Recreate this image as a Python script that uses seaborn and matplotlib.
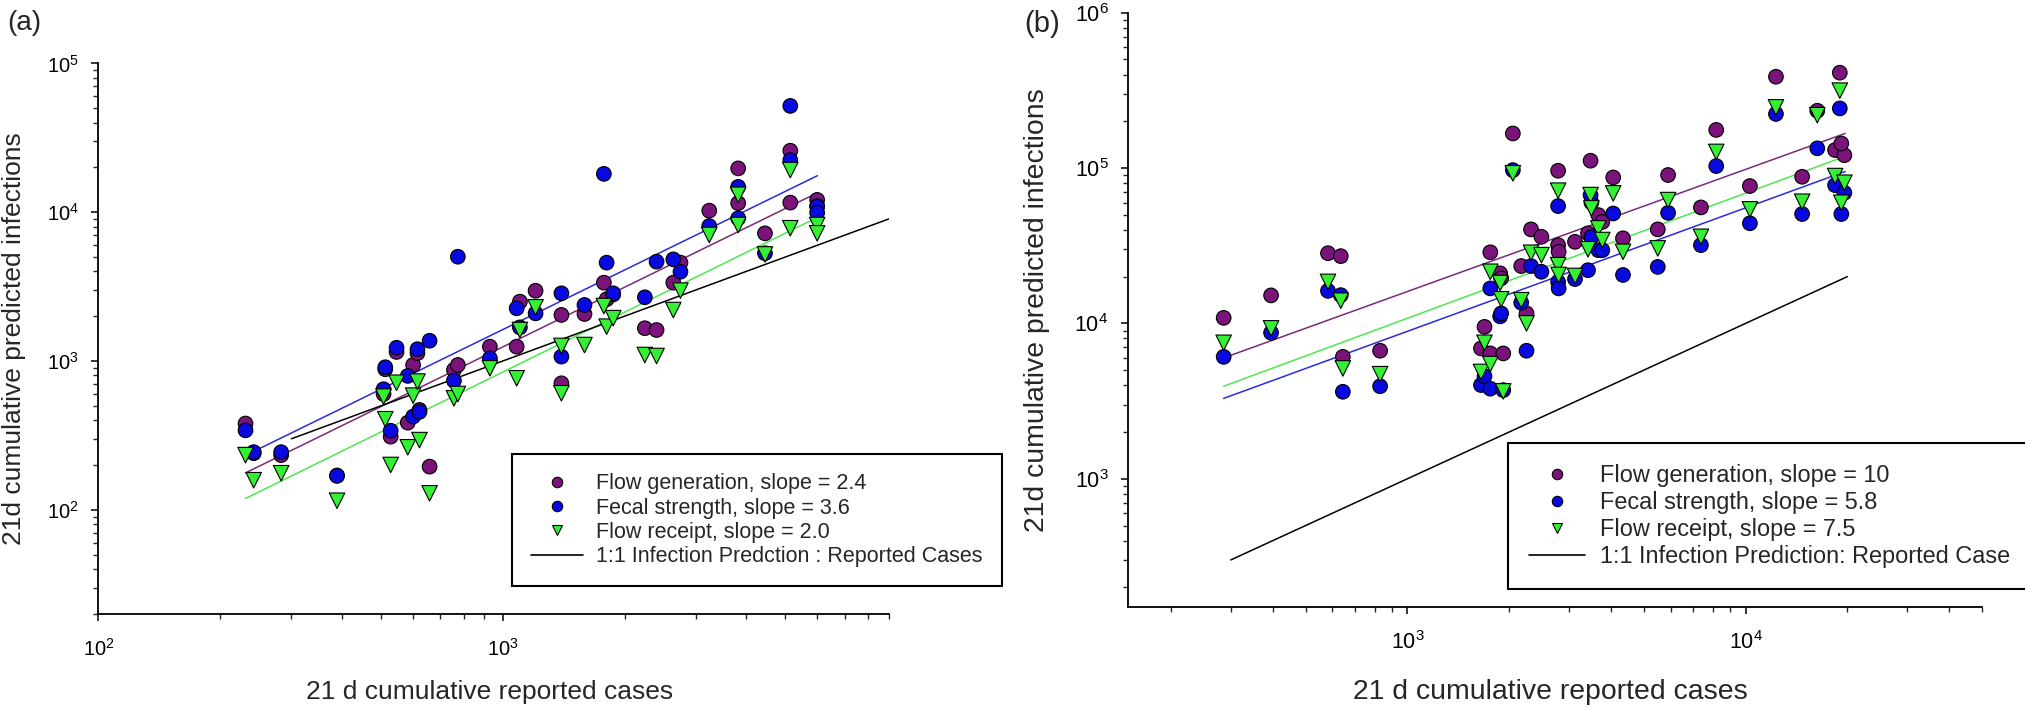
import numpy as np
import pandas as pd
import matplotlib
matplotlib.use("Agg")
import matplotlib.pyplot as plt
import seaborn as sns
from matplotlib.lines import Line2D
from matplotlib.ticker import LogLocator, NullFormatter, FuncFormatter

sns.set_theme(style="ticks")
plt.rcParams['font.family'] = ['Liberation Sans', 'DejaVu Sans']
plt.rcParams['mathtext.fontset'] = 'custom'
plt.rcParams['mathtext.rm'] = 'Liberation Sans'
plt.rcParams['mathtext.it'] = 'Liberation Sans:italic'
plt.rcParams['mathtext.bf'] = 'Liberation Sans:bold'
plt.rcParams['mathtext.default'] = 'regular'

methods = ["Flow generation", "Fecal strength", "Flow receipt"]

# ---------------- Panel (a) data ----------------
a_reported = [231, 242, 283, 389, 507, 512, 528, 546, 582, 600, 615, 622, 659,
              757, 774, 929, 1082, 1102, 1205, 1396, 1396, 1592, 1778, 1806,
              1875, 2245, 2400, 2640, 2750, 3240, 3820, 3820, 4450, 5140, 5140,
              5990, 5990]
a_flow_generation = [380, 240, 233, 170, 600, 880, 310, 1150, 385, 940, 1130, 469,
                     195, 871, 940, 1248, 1248, 2505, 2965, 2040, 708, 2070, 3360,
                     2600, 2800, 1660, 1615, 3360, 4580, 10240, 19700, 11500, 7210,
                     25900, 11600, 12100, 11000]
a_fecal_strength = [342, 244, 244, 169, 646, 908, 340, 1228, 794, 423, 1200, 455,
                    1368, 738, 5020, 1042, 2260, 1683, 2090, 2850, 1070, 2380,
                    18100, 4580, 2850, 2680, 4650, 4820, 3980, 8070, 14800, 9100,
                    5300, 51800, 22400, 10900, 9930]
a_flow_receipt = [233, 158, 176, 115, 576, 406, 200, 714, 263, 585, 727, 294, 129,
                  561, 600, 893, 765, 1615, 2295, 1262, 607, 1280, 2340, 1700,
                  1940, 1097, 1080, 2200, 2970, 7030, 13100, 8200, 5200, 19200,
                  7800, 8200, 7210]
a_fit_x = [231, 6000]
a_fit_flow_generation = [177, 13500]
a_fit_fecal_strength = [232, 17600]
a_fit_flow_receipt = [119, 9230]
a_one_to_one = [300, 9000]
a_legend_labels = ["Flow generation, slope = 2.4", "Fecal strength, slope = 3.6",
                   "Flow receipt, slope = 2.0", "1:1 Infection Predction : Reported Cases"]

# ---------------- Panel (b) data ----------------
b_reported = [286, 395, 582, 635, 644, 830, 1650, 1690, 1758, 1758, 1880, 1893,
              1920, 2050, 2170, 2250, 2320, 2490, 2790, 2790, 2800, 3130, 3420,
              3480, 3500, 3670, 3770, 4060, 4340, 5500, 5900, 7380, 8190, 10300,
              12300, 14700, 16300, 19000, 18400, 19600, 19200]
b_flow_generation = [10860, 15150, 28300, 27100, 6090, 6670, 6900, 9500, 6410,
                     28700, 21000, 19500, 6410, 167000, 23400, 11600, 40300, 36100,
                     96100, 31900, 28900, 33500, 38000, 111500, 60000, 49800, 45000,
                     87000, 35300, 40300, 90200, 55800, 176000, 76600, 387000,
                     87900, 234000, 411000, 130600, 121000, 144000]
b_fecal_strength = [6090, 8710, 16200, 15200, 3630, 3940, 4010, 4570, 3800, 16800,
                    11100, 11600, 3720, 97000, 13600, 6670, 23400, 21500, 56900,
                    18500, 16800, 19300, 22000, 67000, 36000, 29600, 29600, 51000,
                    20500, 23100, 51500, 31900, 103000, 44100, 223000, 50600,
                    134000, 242000, 77600, 69300, 50600]
b_flow_receipt = [7500, 9290, 18500, 14000, 5130, 4710, 4870, 7500, 5470, 21500,
                  18200, 14300, 3650, 92500, 14100, 10000, 28500, 27500, 71500,
                  23700, 20500, 20200, 30000, 67000, 55000, 40900, 34400, 68700,
                  28900, 30400, 62200, 36100, 127000, 54200, 246000, 60700, 219000,
                  315000, 88800, 80400, 59800]
b_fit_x = [286, 19700]
b_fit_flow_generation = [6000, 167000]
b_fit_fecal_strength = [3290, 95000]
b_fit_flow_receipt = [3940, 119000]
b_one_to_one = [300, 20000]
b_legend_labels = ["Flow generation, slope = 10", "Fecal strength, slope = 5.8",
                   "Flow receipt, slope = 7.5", "1:1 Infection Prediction: Reported Case"]

# ---------------- styles ----------------
point_colors = {"Flow generation": "#7a137a", "Fecal strength": "#0808e0",
                "Flow receipt": "#33f033"}
line_colors = {"Flow generation": "#7a2a7a", "Fecal strength": "#2a2ae0",
               "Flow receipt": "#4ee84e"}
markers = {"Flow generation": "o", "Fecal strength": "o", "Flow receipt": "v"}
marker_sizes = {"Flow generation": 110, "Fecal strength": 110, "Flow receipt": 125}


def long_df(x, p, b, g):
    return pd.concat([pd.DataFrame({"reported": x, "predicted": v, "method": m})
                      for m, v in zip(methods, (p, b, g))], ignore_index=True)


fig = plt.figure(figsize=(20.25, 7.10), dpi=100)
ax_a = fig.add_axes([0.04864, 0.1346, 0.3902, 0.7761])
ax_b = fig.add_axes([0.5570, 0.1448, 0.4217, 0.8373])

fmt = FuncFormatter(lambda v, pos: f"10$^{{{int(round(np.log10(v)))}}}$")

panels = [
    (ax_a, long_df(a_reported, a_flow_generation, a_fecal_strength, a_flow_receipt),
     long_df(a_fit_x, a_fit_flow_generation, a_fit_fecal_strength, a_fit_flow_receipt),
     a_one_to_one, (100, 9000), (19.8, 1e5), a_legend_labels, 19, 14.5,
     (0.2527, 0.3606), 15.5, 0.15),
    (ax_b, long_df(b_reported, b_flow_generation, b_fecal_strength, b_flow_receipt),
     long_df(b_fit_x, b_fit_flow_generation, b_fit_fecal_strength, b_fit_flow_receipt),
     b_one_to_one, (149, 50000), (149, 1e6), b_legend_labels, 20.4, 15.5,
     (0.7447, 0.3765), 16.9, 0.17),
]

for (ax, pts, fits, one, xlim, ylim, leg_labels, lab_fs, tick_fs, leg_anchor,
     leg_fs, leg_sp) in panels:
    ax.set_xscale("log")
    ax.set_yscale("log")
    sns.lineplot(data=fits, x="reported", y="predicted", hue="method",
                 palette=line_colors, estimator=None, sort=False, lw=1.1,
                 legend=False, ax=ax, zorder=2)
    one_df = pd.DataFrame({"reported": one, "predicted": one})
    sns.lineplot(data=one_df, x="reported", y="predicted", color="black",
                 estimator=None, sort=False, lw=1.1, ax=ax, zorder=2)
    sns.scatterplot(data=pts, x="reported", y="predicted", hue="method",
                    style="method", size="method", sizes=marker_sizes,
                    markers=markers, palette=point_colors,
                    edgecolor="black", linewidth=0.8, legend=False,
                    ax=ax, zorder=3)
    ax.set_xlim(*xlim)
    ax.set_ylim(*ylim)
    for axis in (ax.xaxis, ax.yaxis):
        axis.set_major_locator(LogLocator(base=10))
        axis.set_minor_locator(LogLocator(base=10, subs=np.arange(2, 10)))
        axis.set_major_formatter(fmt)
        axis.set_minor_formatter(NullFormatter())
    ax.tick_params(which="major", direction="out", length=5, width=1.1,
                   labelsize=tick_fs, colors="black")
    ax.tick_params(which="minor", direction="out", length=3.5, width=1.0)
    ax.tick_params(axis="x", which="major", pad=12)
    ax.tick_params(axis="y", which="major", pad=9)
    sns.despine(ax=ax)
    for s in ("left", "bottom"):
        ax.spines[s].set_linewidth(1.3)
        ax.spines[s].set_color("black")
    ax.set_xlabel("21 d cumulative reported cases", fontsize=lab_fs)
    ax.set_ylabel("21d cumulative predicted infections", fontsize=lab_fs)
    ax.xaxis.label.set_va("center")
    ax.yaxis.label.set_va("center")
    ax.grid(False)

    handles = [Line2D([], [], ls="none", marker=markers[m], markersize=7.5,
                      markerfacecolor=point_colors[m], markeredgecolor="black",
                      markeredgewidth=0.8) for m in methods]
    handles.append(Line2D([], [], color="black", lw=1.2))
    leg = fig.legend(handles, leg_labels, loc="upper left", bbox_to_anchor=leg_anchor,
                     bbox_transform=fig.transFigure, frameon=True, fancybox=False,
                     edgecolor="black", framealpha=1, fontsize=leg_fs, borderpad=0.9,
                     labelspacing=leg_sp, handlelength=2.4, handletextpad=0.6,
                     borderaxespad=0)
    leg.get_frame().set_linewidth(1.5)

ax_a.xaxis.set_label_coords(0.495, -0.1405)
ax_a.yaxis.set_label_coords(-0.1065, 0.5)
ax_b.xaxis.set_label_coords(0.495, -0.1421)
ax_b.yaxis.set_label_coords(-0.1066, 0.5)

fig.text(24 / 2025, 1 - 23 / 710, "(a)", ha="center", va="center", fontsize=20)
fig.text(1042 / 2025, 1 - 24 / 710, "(b)", ha="center", va="center", fontsize=21)

fig.savefig("out.png", dpi=100, facecolor="white")
